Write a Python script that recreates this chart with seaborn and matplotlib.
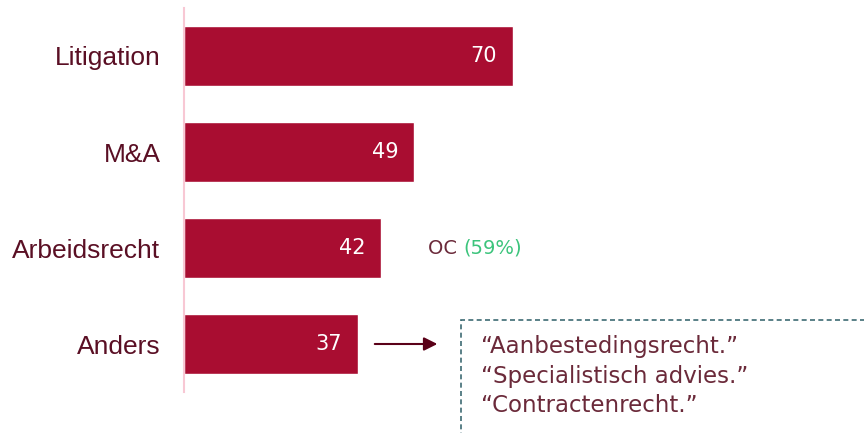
import matplotlib
matplotlib.use("Agg")
import matplotlib.pyplot as plt
import matplotlib.patches as mpatches
import pandas as pd
import seaborn as sns

categories = ["Litigation", "M&A", "Arbeidsrecht", "Anders"]
values = [70, 49, 42, 37]
note_label = "OC"
note_share = "(59%)"
other_answers = ["“Aanbestedingsrecht.”", "“Specialistisch advies.”", "“Contractenrecht.”"]

bar_color = "#A90D31"
label_color = "#5A0F24"
text_color = "#6B2A3A"

sns.set_theme(style="white")
plt.rcParams["font.family"] = ["Liberation Sans", "DejaVu Sans"]

df = pd.DataFrame({"category": categories, "value": values})

fig = plt.figure(figsize=(8.64, 4.33), dpi=100)
ax = fig.add_axes([184 / 864, 41 / 433, 680 / 864, 384 / 433])

sns.barplot(data=df, x="value", y="category", orient="h", color=bar_color,
            saturation=1, width=0.615, ax=ax)

ax.set_xlim(0, 680 / 4.7)
ax.set_ylim(3.5, -0.5)
ax.set_xlabel("")
ax.set_ylabel("")
ax.set_xticks([])
for side in ["top", "right", "bottom"]:
    ax.spines[side].set_visible(False)
ax.spines["left"].set_color("#F8C8D4")
ax.spines["left"].set_linewidth(1.5)
ax.tick_params(axis="y", length=0, pad=17, labelsize=19, labelcolor=label_color)

# value labels inside the bars
for i, v in enumerate(values):
    ax.text(v - 3.4, i, str(v), ha="right", va="center", color="white",
            fontsize=15, family="DejaVu Sans")

# note next to Arbeidsrecht
idx = categories.index("Arbeidsrecht")
t = ax.text(values[idx] + 10, idx, note_label + " ", ha="left", va="center",
            color=text_color, fontsize=14, family="DejaVu Sans")
fig.canvas.draw()
bb = t.get_window_extent().transformed(ax.transData.inverted())
ax.text(bb.x1, idx, note_share, ha="left", va="center", color="#3CC47C",
        fontsize=14, family="DejaVu Sans")

# arrow from Anders to the box
idx = categories.index("Anders")
ax.annotate("", xy=(values[idx] + 17.5, idx), xytext=(values[idx] + 3, idx),
            arrowprops=dict(arrowstyle="-|>", color="#5A0018", lw=1.5,
                            mutation_scale=20))

# dashed box with other answers
box = mpatches.Rectangle((461 / 864, -0.02), 0.6, 0.281, transform=fig.transFigure,
                         fill=False, edgecolor="#3D6B73", linestyle=(0, (3, 2)),
                         linewidth=1.2, clip_on=False)
fig.patches.append(box)
for k, line in enumerate(other_answers):
    fig.text(481 / 864, 1 - (346 + 30 * k) / 433, line, ha="left", va="center",
             color=text_color, fontsize=16.5, family="DejaVu Sans")

fig.savefig("out.png", dpi=100)
